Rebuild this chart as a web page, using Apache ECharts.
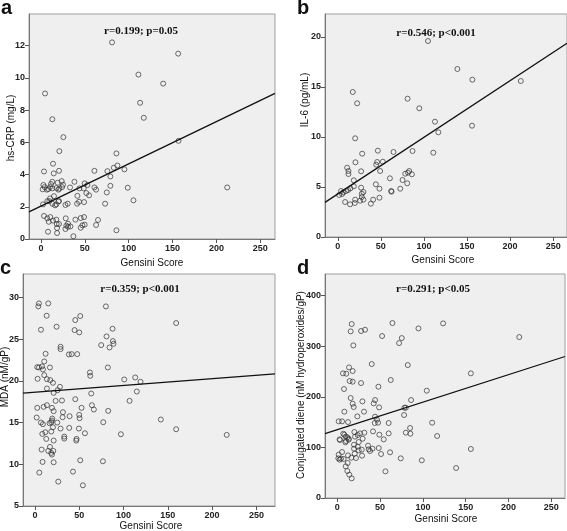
<!DOCTYPE html>
<html><head><meta charset="utf-8">
<script src="https://cdn.jsdelivr.net/npm/echarts@6/dist/echarts.min.js"></script>
<style>html,body{margin:0;padding:0;background:#fff}#c{width:567px;height:531px}</style>
</head><body><div id="c"></div><script>
// ---- data ----
const xTicks = [0, 50, 100, 150, 200, 250];

// a: hs-CRP vs Gensini
const aX = [81,156.4,111.1,139.3,113,4.6,117.2,12.9,25.5,156.8,20.9,86,13.7,87.1,83,95.1,60.9,75.7,3.4,20.5,14.5,79.1,38.1,12.9,23.6,19,49.8,52.9,2.7,25.1,11.4,4.2,10.3,79.1,33.1,60.9,62.8,98.9,212.3,8.4,1.9,6.8,12.9,17.5,20.9,19.8,24,43.8,48.7,51.7,75,41.5,54.8,14.8,10.3,2.3,105.4,73.1,7.2,9.5,20.5,43.4,49.1,41.1,30.4,27.8,12.9,16,17.5,19.8,3.4,7.2,10.6,8.8,13.7,17.5,17.9,20.5,18.3,18.3,8,28.2,39.2,45.3,49.1,65,30.8,28.9,30.8,33.5,27.8,45.3,47.2,49.8,62.8,86,36.9];
const aY = [12.2,11.5,10.2,9.64,8.45,9.03,7.52,7.43,6.32,6.09,5.45,5.31,4.67,4.56,4.42,4.32,4.23,4.21,4.19,4.23,4.07,3.88,3.55,3.55,3.59,3.49,3.45,3.35,3.35,3.37,3.41,3.22,3.22,3.3,3.2,3.2,3.06,3.18,3.2,3.1,3.08,3.06,3.14,3.16,3.12,3.06,3.22,3.14,3.14,2.85,2.89,2.68,2.71,2.66,2.52,2.15,2.4,2.19,2.35,2.35,2.35,2.31,2.29,2.19,2.19,2.11,2.19,2.09,2.15,2.33,1.43,1.28,1.36,1.07,1.14,1.2,0.93,0.93,0.68,0.37,0.45,1.28,1.2,1.3,1.36,1.18,0.95,0.83,0.76,0.78,0.62,0.7,0.85,0.89,0.87,0.54,0.17];
const aYTicks = [0, 2, 4, 6, 8, 10, 12];
const aFit = [2.04, 0.0262];

// b: IL-6 vs Gensini
const bX = [104.7,138.8,156.2,212.4,17.4,22.5,81,94.6,155.8,112.8,116.7,20.2,110.9,46.5,64.7,86.8,28.3,20.5,52.3,45.7,44.6,10.9,12.4,12.4,27.1,49.2,82.9,78.3,86,81.4,60.5,75.2,18.6,80.6,44.2,27.1,18.6,14.7,9.7,12,3.9,6.6,1.6,5,48.4,29.8,27.9,62,62.4,72.5,27.9,20.2,29.8,26,41.1,48.4,8.5,14.3,19.8,38.4];
const bY = [19.6,16.8,15.73,15.6,14.5,13.37,13.83,12.87,11.13,11.53,10.47,9.87,8.43,8.63,8.5,8.6,8.33,7.47,7.53,7.5,7.23,6.93,6.6,6.3,6.57,6.6,6.6,6.33,6.27,6.43,5.87,5.7,5.67,5.37,5.27,4.93,5.07,4.87,4.6,4.7,4.6,4.47,4.2,4.3,4.83,4.5,4.33,4.6,4.53,4.83,4,3.73,3.73,3.63,3.73,3.93,3.5,3.27,3.4,3.33];
const bYTicks = [0, 5, 10, 15, 20];
const bFit = [4.30, 0.0567];

// c: MDA vs Gensini
const cX = [4.5,3.8,15,80.1,13.2,51.1,45.5,159.4,6.8,24.4,87.6,44.7,50,80.8,88,88.7,74.8,84.2,28.9,28.9,12,38.3,41.4,47.7,10.5,2.6,4.5,7.9,16.9,9,82.3,62,62.4,10.5,3,13.5,17.3,20.3,100.8,113.2,119.2,28.2,25.6,13.5,21.1,115,63.5,45.5,106.8,23.3,30.5,13.5,9.8,64.3,66.5,2.6,19.2,21.1,52.6,82.7,31.6,39.1,50,50.4,31.2,19.5,19.2,1.9,18.4,16.5,6.8,9,25.2,77.1,142.1,20.3,28.9,38.7,49.6,159.4,18.4,11.7,8.3,56.4,97,216.5,33.1,33.1,12.8,47,46.6,21.1,16.9,7.5,15,20.7,18.4,19.2,8.6,21.1,51.1,76.7,4.9,42.9,26.3,54.1];
const cY = [29.28,28.92,29.28,28.92,27.8,27.76,27.28,26.92,26.12,26.48,26.24,26.08,25.8,25.32,24.76,24.44,24.28,24,24.08,23.8,23.24,23.16,23.2,23.2,22.32,21.64,21.6,21.72,21.6,21.36,21.6,21,20.6,20.68,20.24,20.2,20.08,19.76,20.16,20.4,19.88,19.28,18.88,19.08,18.56,18.72,18.48,17.8,17.6,17.6,17.64,17.08,16.88,17.08,16.56,16.76,16.76,16.36,16.76,16.4,16.24,15.76,15.92,15.52,15.64,15.48,15.24,15.6,15.04,14.92,15,14.8,15,15.04,15.36,14.44,14.28,14.36,14.28,14.2,13.92,13.84,13.64,13.72,13.6,13.52,13.32,13.08,13.04,13.04,12.84,12.84,12.08,11.76,11.6,11.6,11.36,11.16,10.28,10.24,10.48,10.36,9,9.12,7.92,7.48];
const cYTicks = [5, 10, 15, 20, 25, 30];
const cFit = [18.63, 0.00815];

// d: Conjugated diene vs Gensini
const dX = [64.4,123.6,16.8,15.6,27.7,32.4,94.8,52.3,75.3,72.2,18.7,212.6,40.2,82.3,13.7,17.9,6.6,10.5,156,62.4,14.4,17.9,27.7,7.8,48,104.5,15.6,86.2,44.1,29.3,17.9,42.5,19.1,48.8,78.4,80,78,8.2,31.2,23.4,44.1,1.6,5.5,12.5,46.4,47.6,43.7,60,110.8,85,41.7,19.9,31.6,26.5,60,80,85.4,49.1,7,8.2,116.6,20.7,23.8,29.6,2.7,3.1,9.8,11.7,13.3,13.3,10.1,9.4,54.2,25,19.5,23.8,35.9,25,36.7,38.2,28.5,19.5,41.1,48.4,61.6,51.1,5.5,12.5,20.3,21.8,28.9,16.4,1.6,1.2,4.3,7.4,2.7,156,74.1,98.7,9.8,12.1,11.7,14,16.8,56.2,138.8];
const dY = [346,345.3,344,329.5,330.2,332.8,335.4,320.3,316.3,306.4,301.8,318.3,264.9,262.9,258.3,251.1,246.5,245.8,246.5,233.3,231.3,230,227.3,215.5,220.1,212.2,197.7,193.7,193.7,191.1,186.5,187.1,179.9,179.2,178.6,178.6,164.1,170.7,170.7,161.4,160.8,151.6,151.6,150.2,154.9,148.9,148.3,148.3,148.9,138.4,131.8,130.5,129.2,127.8,127.8,129.2,127.2,125.2,127.2,125.2,122.6,121.3,124.6,117.3,116,114.7,121.3,120,117.3,115.3,112.7,110.1,116,110.7,105.4,101.5,103.5,94.2,96.2,92.9,95.6,97.5,97.5,98.8,90.3,87,90.9,84.3,87.6,79.1,83.7,79.7,85.7,78.4,77.8,77.1,75.8,96.9,78.4,74.5,62.6,69.2,53.4,46.1,38.9,52.7,59.3];
const dYTicks = [0, 100, 200, 300, 400];
const dFit = [135.0, 0.5445];

// ---- layout ----
const FONT = '"Liberation Sans", Arial, sans-serif';
const panels = [
  {left: 29, top: 14, width: 246, height: 225, xmin: -13.7, xmax: 266.8, ymin: 0, ymax: 13.96, yTicks: aYTicks, xs: aX, ys: aY, fit: aFit},
  {left: 325, top: 14, width: 242, height: 223, xmin: -14.8, xmax: 266, ymin: 0, ymax: 22.3, yTicks: bYTicks, xs: bX, ys: bY, fit: bFit},
  {left: 23, top: 274, width: 252, height: 232, xmin: -13.5, xmax: 271, ymin: 5, ymax: 32.8, yTicks: cYTicks, xs: cX, ys: cY, fit: cFit},
  {left: 325, top: 274, width: 240, height: 224, xmin: -14.4, xmax: 266, ymin: 0, ymax: 443, yTicks: dYTicks, xs: dX, ys: dY, fit: dFit}
];

const grid = [], xAxis = [], yAxis = [], series = [];
panels.forEach((p, i) => {
  grid.push({left: p.left, top: p.top, width: p.width, height: p.height, show: true,
    backgroundColor: '#efefef', borderColor: '#9e9e9e', borderWidth: 1});
  const lbl = {fontSize: 9, fontWeight: 'bold', color: '#222', fontFamily: FONT};
  xAxis.push({gridIndex: i, type: 'value', min: p.xmin, max: p.xmax,
    axisLine: {show: true, onZero: false, lineStyle: {color: '#777', width: 1}},
    axisTick: {show: true, length: 4, customValues: xTicks, lineStyle: {color: '#555'}},
    axisLabel: Object.assign({customValues: xTicks, margin: 5}, lbl),
    splitLine: {show: false}});
  yAxis.push({gridIndex: i, type: 'value', min: p.ymin, max: p.ymax,
    axisLine: {show: true, onZero: false, lineStyle: {color: '#777', width: 1}},
    axisTick: {show: true, length: 4, customValues: p.yTicks, lineStyle: {color: '#555'}},
    axisLabel: Object.assign({customValues: p.yTicks, margin: 4}, lbl),
    splitLine: {show: false}});
  series.push({type: 'scatter', xAxisIndex: i, yAxisIndex: i,
    data: p.xs.map((x, j) => [x, p.ys[j]]), symbol: 'circle', symbolSize: 5,
    itemStyle: {color: 'rgba(0,0,0,0)', borderColor: '#333', borderWidth: 0.9}, silent: true});
  series.push({type: 'line', xAxisIndex: i, yAxisIndex: i, showSymbol: false, silent: true,
    data: [[p.xmin, p.fit[0] + p.fit[1] * p.xmin], [p.xmax, p.fit[0] + p.fit[1] * p.xmax]],
    lineStyle: {color: '#111', width: 1.3}});
});

const txt = (x, y, s, style, rot) => ({type: 'text', x: x, y: y, rotation: rot || 0,
  style: Object.assign({text: s, align: 'center', verticalAlign: 'middle', fill: '#111'}, style)});
const letter = {font: 'bold 20px ' + FONT, align: 'left', verticalAlign: 'top'};
const ann = {font: 'bold 11px "Liberation Serif", "Times New Roman", serif'};
const axt = {font: '10px ' + FONT};
const graphic = [
  txt(1, -2, 'a', letter), txt(297, -2, 'b', letter), txt(0, 258, 'c', letter), txt(297, 258, 'd', letter),
  txt(141, 31, 'r=0.199; p=0.05', ann), txt(436, 33, 'r=0.546; p<0.001', ann),
  txt(140, 289, 'r=0.359; p<0.001', ann), txt(433, 289, 'r=0.291; p<0.05', ann),
  txt(152, 263, 'Gensini Score', axt), txt(443, 260, 'Gensini Score', axt),
  txt(151, 526, 'Gensini Score', axt), txt(446, 519, 'Gensini Score', axt),
  txt(11, 128, 'hs-CRP (mg/L)', axt, Math.PI / 2), txt(305, 100, 'IL-6 (pg/mL)', axt, Math.PI / 2),
  txt(5, 377, 'MDA (nM/gP)', axt, Math.PI / 2), txt(301, 385, 'Conjugated diene (nM hydroperoxides/gP)', axt, Math.PI / 2)
];

const chart = echarts.init(document.getElementById('c'), null, {renderer: 'canvas'});
chart.setOption({animation: false, backgroundColor: '#fff', grid, xAxis, yAxis, series, graphic});
</script></body></html>
